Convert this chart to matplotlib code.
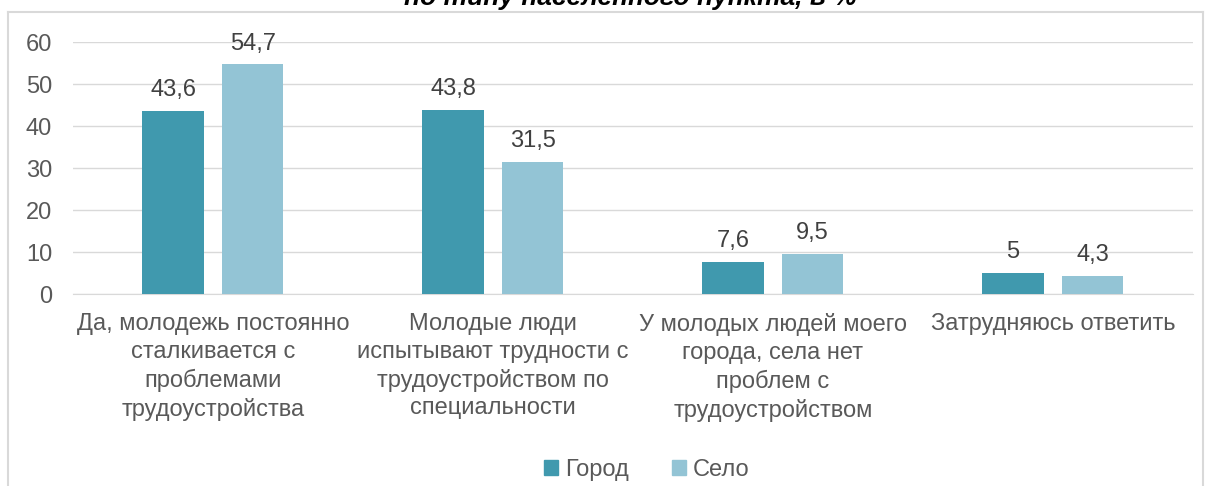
import matplotlib
matplotlib.use("Agg")
import matplotlib.pyplot as plt
from matplotlib.lines import Line2D
from matplotlib.patches import Patch
import numpy as np

plt.rcParams["font.family"] = ["Liberation Sans", "DejaVu Sans"]

categories = [
    "Да, молодежь постоянно\nсталкивается с\nпроблемами\nтрудоустройства",
    "Молодые люди\nиспытывают трудности с\nтрудоустройством по\nспециальности",
    "У молодых людей моего\nгорода, села нет\nпроблем с\nтрудоустройством",
    "Затрудняюсь ответить",
]
city = [43.6, 43.8, 7.6, 5]
village = [54.7, 31.5, 9.5, 4.3]
series_names = ["Город", "Село"]
yticks = [0, 10, 20, 30, 40, 50, 60]

C_CITY = "#4099AE"
C_VILLAGE = "#93C4D5"
TXT = "#595959"
GRID = "#D9D9D9"
FS = 17

fig = plt.figure(figsize=(12.08, 4.86), dpi=100)
ax = fig.add_axes([0.0604, 0.395, 0.927, 0.5185])

x = np.arange(len(categories))
w = 0.22
off = 0.142
b1 = ax.bar(x - off, city, w, color=C_CITY, zorder=3)
b2 = ax.bar(x + off, village, w, color=C_VILLAGE, zorder=3)

for bars, vals in ((b1, city), (b2, village)):
    for bar, v in zip(bars, vals):
        ax.annotate(f"{v:g}".replace(".", ","),
                    (bar.get_x() + bar.get_width() / 2, v),
                    xytext=(0, 7), textcoords="offset points",
                    ha="center", va="bottom", fontsize=FS, color="#404040")

ax.set_xlim(-0.5, 3.5)
ax.set_ylim(0, 60)
ax.set_yticks(yticks)
ax.set_xticks(x)
ax.set_xticklabels(categories, fontsize=FS, color=TXT, linespacing=1.32)
ax.tick_params(axis="y", length=0, pad=15, labelsize=FS, labelcolor=TXT)
ax.tick_params(axis="x", length=0, pad=14)
ax.grid(axis="y", color=GRID, linewidth=1, zorder=0)
for s in ("top", "right", "left"):
    ax.spines[s].set_visible(False)
ax.spines["bottom"].set_color(GRID)

# chart area frame, bottom edge runs off the canvas
fy = 1 - 12 / 486
fl, fr = 8 / 1208, 1203 / 1208
for xs, ys in (([fl, fl], [0, fy]), ([fl, fr], [fy, fy]), ([fr, fr], [0, fy])):
    fig.add_artist(Line2D(xs, ys, transform=fig.transFigure, color=GRID, lw=1.5))

fig.text(630 / 1208, 1 - 5 / 486, "по типу населенного пункта, в %",
         ha="center", va="baseline", fontsize=19, fontweight="bold",
         fontstyle="italic", color="black")

handles = [Patch(color=C_CITY), Patch(color=C_VILLAGE)]
fig.legend(handles, series_names, loc="center", bbox_to_anchor=(647 / 1208, 1 - 470 / 486),
           ncol=2, frameon=False, fontsize=FS, labelcolor=TXT,
           handlelength=0.6, handleheight=0.6, handletextpad=0.3, columnspacing=1.8)

fig.savefig("out.png", dpi=100)
